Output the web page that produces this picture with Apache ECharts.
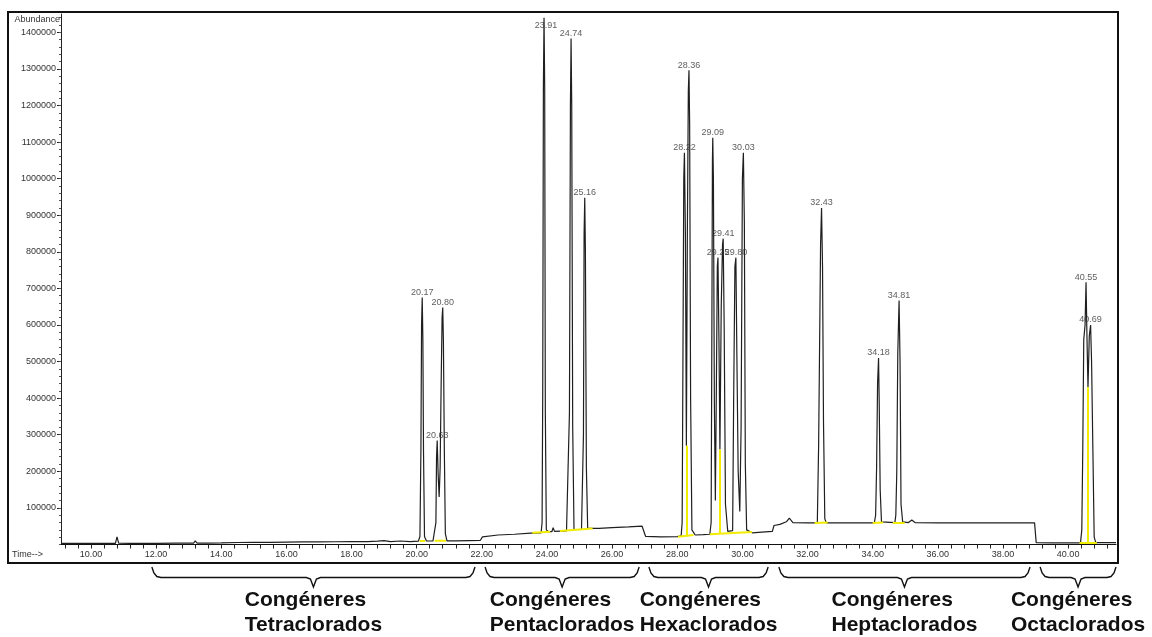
<!DOCTYPE html>
<html>
<head>
<meta charset="utf-8">
<script src="https://cdn.jsdelivr.net/npm/echarts@6/dist/echarts.min.js"></script>
<style>
  html, body { margin: 0; padding: 0; background: #fff; }
  #chart { width: 1152px; height: 637px; }
</style>
</head>
<body>
<div id="chart"></div>
<script>
// Total ion chromatogram of PCB congeners: [retention time (min), abundance]
const trace = [
  [9.08,3000],[9.5,3000],[10.0,3200],[10.5,3000],[10.75,3200],[10.8,21000],[10.85,3500],[11.2,3000],
  [12.0,3200],[12.6,3500],[13.15,3500],[13.2,10000],[13.26,4000],[13.6,4000],[14.0,4500],[14.5,5500],
  [15.0,6000],[15.5,6000],[16.0,6500],[16.5,7000],[17.0,7000],[17.5,7500],[18.0,8000],[18.5,8000],
  [18.8,9000],[19.0,10500],[19.2,8000],[19.5,9500],[19.8,8000],[20.05,9000],
  [20.10,22000],[20.13,260000],[20.15,600000],[20.17,675000],[20.19,560000],[20.21,250000],[20.24,22000],
  [20.30,9500],[20.50,9500],
  [20.56,12000],[20.59,60000],[20.61,240000],[20.63,284000],[20.66,190000],[20.69,130000],[20.72,210000],
  [20.75,430000],[20.78,620000],[20.80,648000],[20.82,560000],[20.85,250000],[20.88,30000],[20.93,10000],
  [21.2,10000],[21.6,10500],[21.95,11000],[22.02,21000],[22.08,24000],[22.5,26000],[23.0,28000],
  [23.5,31000],[23.82,32000],
  [23.85,60000],[23.87,420000],[23.89,1250000],[23.91,1440000],[23.93,1250000],[23.95,360000],[23.98,40000],
  [24.05,35000],[24.15,35000],[24.19,46000],[24.23,36000],[24.6,37000],
  [24.66,40000],[24.69,360000],[24.72,1200000],[24.74,1383000],[24.76,1200000],[24.79,320000],[24.83,41000],
  [25.06,41000],
  [25.09,45000],[25.12,300000],[25.14,850000],[25.16,948000],[25.18,800000],[25.21,210000],[25.25,44000],
  [25.6,44000],[26.0,46000],[26.5,48000],[26.92,50000],[26.98,48000],[27.03,22000],[27.5,21000],
  [28.0,21500],[28.12,24000],
  [28.15,60000],[28.17,420000],[28.20,1000000],[28.22,1071000],[28.25,850000],[28.28,270000],[28.31,850000],
  [28.34,1240000],[28.36,1296000],[28.38,1150000],[28.41,400000],[28.45,40000],[28.55,26000],[28.8,27000],
  [29.0,28000],
  [29.04,60000],[29.06,520000],[29.08,1050000],[29.09,1112000],[29.11,1000000],[29.14,380000],[29.17,120000],
  [29.20,420000],[29.23,760000],[29.25,784000],[29.28,560000],[29.31,260000],[29.35,650000],[29.39,820000],
  [29.41,836000],[29.44,600000],[29.48,110000],[29.55,36000],[29.70,38000],
  [29.73,380000],[29.77,760000],[29.80,784000],[29.83,520000],[29.87,200000],[29.92,90000],[29.96,320000],
  [30.00,1000000],[30.03,1071000],[30.06,880000],[30.09,220000],[30.13,40000],[30.3,32000],[30.6,34000],
  [30.92,36000],[30.97,52000],[31.15,55000],[31.35,62000],[31.44,72000],[31.55,60000],[32.0,59000],
  [32.3,59000],
  [32.34,270000],[32.40,820000],[32.43,920000],[32.46,760000],[32.49,335000],[32.53,70000],[32.58,59000],
  [32.88,59000],[32.93,64000],[32.98,59000],[33.5,59000],[34.05,59000],
  [34.09,80000],[34.12,210000],[34.15,440000],[34.18,510000],[34.20,390000],[34.23,150000],[34.27,62000],
  [34.68,60000],
  [34.71,80000],[34.74,200000],[34.77,520000],[34.81,667000],[34.84,500000],[34.87,110000],[34.92,62000],
  [35.1,60000],[35.2,67000],[35.3,60000],[36.0,59000],[37.0,59000],[38.0,59000],[38.97,59000],
  [39.02,5000],[39.5,4500],[40.0,4500],[40.38,4500],
  [40.42,40000],[40.45,260000],[40.48,560000],[40.52,600000],[40.55,717000],[40.58,560000],[40.61,430000],
  [40.65,570000],[40.69,600000],[40.72,500000],[40.76,260000],[40.80,20000],[40.85,5000],[41.0,5000],
  [41.47,5000]
];

// Integration baselines under the peaks
const integrationBaselines = [
  [[20.09,9000],[20.26,9500]],
  [[20.55,10000],[20.90,10500]],
  [[23.55,32000],[24.10,35000]],
  [[24.40,37000],[25.40,44000]],
  [[28.02,21500],[28.50,26000]],
  [[29.00,28000],[30.30,34000]],
  [[32.22,59000],[32.62,60000]],
  [[34.00,59000],[34.32,60000]],
  [[34.62,60000],[34.98,60000]],
  [[40.35,5000],[40.88,5000]]
];

// Drop lines splitting co-eluting peaks
const dropLines = [
  [[28.28,24000],[28.28,270000]],
  [[29.31,30000],[29.31,260000]],
  [[40.61,5000],[40.61,430000]]
];

// Peak apex labels: [retention time, apex abundance, label]
const peakLabels = [
  [20.17,675000,'20.17'],[20.63,284000,'20.63'],[20.80,648000,'20.80'],
  [23.91,1440000,'23.91'],[24.74,1383000,'24.74'],[25.16,948000,'25.16'],
  [28.22,1071000,'28.22'],[28.36,1296000,'28.36'],[29.09,1112000,'29.09'],
  [29.25,784000,'29.25'],[29.41,836000,'29.41'],[29.80,784000,'29.80'],
  [30.03,1071000,'30.03'],[32.43,920000,'32.43'],[34.18,510000,'34.18'],
  [34.81,667000,'34.81'],[40.55,717000,'40.55'],[40.69,600000,'40.69']
];

// Axis ticks and labels
const timeLabels = [10,12,14,16,18,20,22,24,26,28,30,32,34,36,38,40];
const abundanceLabels = [100000,200000,300000,400000,500000,600000,700000,
  800000,900000,1000000,1100000,1200000,1300000,1400000];
const timeTicks = [];
for (let i = 23; i <= 103; i++) timeTicks.push(Math.round(i * 0.4 * 100) / 100);
const abundanceMinorTicks = [];
for (let v = 0; v <= 1440000; v += 20000) abundanceMinorTicks.push(v);

// Congener groups marked by braces below the time axis
const groupTitle = 'Congéneres';
const groups = [
  { name: 'Tetraclorados', from: 11.87, to: 21.79 },
  { name: 'Pentaclorados', from: 22.10, to: 26.83 },
  { name: 'Hexaclorados',  from: 27.13, to: 30.79 },
  { name: 'Heptaclorados', from: 31.12, to: 38.83 },
  { name: 'Octaclorados',  from: 39.14, to: 41.47 }
];

const labelOffsets = { '23.91': [2, 13] };
const tickFont = "'Liberation Sans', Arial, sans-serif";

const chart = echarts.init(document.getElementById('chart'), null, { renderer: 'canvas' });

const option = {
  backgroundColor: '#fff',
  animation: false,
  grid: { left: 61, right: 36, top: 14, bottom: 92.5, containLabel: false },
  xAxis: {
    type: 'value', min: 9.08, max: 41.47,
    axisLine: { show: true, onZero: false, lineStyle: { color: '#111', width: 1 } },
    axisTick: { show: true, length: 4, customValues: timeTicks, lineStyle: { color: '#222' } },
    axisLabel: {
      show: true, customValues: timeLabels, margin: 6,
      formatter: v => v.toFixed(2),
      fontFamily: tickFont, fontSize: 9, color: '#333'
    },
    splitLine: { show: false }
  },
  yAxis: [{
    type: 'value', min: 0, max: 1450000,
    axisLine: { show: true, lineStyle: { color: '#222', width: 1 } },
    axisTick: { show: true, length: 4, customValues: abundanceLabels, lineStyle: { color: '#222' } },
    axisLabel: {
      show: true, customValues: abundanceLabels, margin: 5,
      formatter: v => String(v),
      fontFamily: tickFont, fontSize: 9, color: '#333'
    },
    splitLine: { show: false }
  }, {
    type: 'value', min: 0, max: 1450000, position: 'left',
    axisLine: { show: false },
    axisTick: { show: true, length: 2, customValues: abundanceMinorTicks, lineStyle: { color: '#555' } },
    axisLabel: { show: false },
    splitLine: { show: false }
  }],
  series: [
    {
      name: 'TIC', type: 'line', data: trace,
      showSymbol: false, symbol: 'none', sampling: null,
      lineStyle: { color: '#1f1f1f', width: 1.2 },
      z: 2, silent: true
    },
    {
      name: 'Integración', type: 'lines', coordinateSystem: 'cartesian2d',
      data: integrationBaselines.concat(dropLines).map(c => ({ coords: c })),
      lineStyle: { color: '#f2ec00', width: 2, opacity: 1 },
      z: 3, silent: true
    },
    {
      name: 'Picos', type: 'scatter', symbolSize: 1,
      itemStyle: { color: 'rgba(0,0,0,0)' },
      data: peakLabels.map(p => ({
        value: [p[0], p[1]],
        label: labelOffsets[p[2]] ? { offset: labelOffsets[p[2]] } : undefined,
        text: p[2]
      })),
      label: {
        show: true, position: 'top', distance: 0,
        formatter: p => p.data.text,
        fontFamily: tickFont, fontSize: 9, color: '#333'
      },
      z: 4, silent: true
    }
  ]
};
chart.setOption(option);

// Frame, axis captions and congener braces
const measure = document.createElement('canvas').getContext('2d');
const groupFont = "bold 21px 'Liberation Sans', Arial, sans-serif";
measure.font = groupFont;

const graphics = [
  { type: 'rect', shape: { x: 8, y: 12, width: 1110, height: 551 },
    style: { fill: 'none', stroke: '#111', lineWidth: 2 }, z: 10, silent: true },
  { type: 'text', x: 60, y: 20,
    style: { text: 'Abundance', font: "9px 'Liberation Sans', Arial, sans-serif", fill: '#333',
             textAlign: 'right', textVerticalAlign: 'middle' }, z: 10 },
  { type: 'text', x: 12, y: 555,
    style: { text: 'Time-->', font: "9px 'Liberation Sans', Arial, sans-serif", fill: '#333',
             textAlign: 'left', textVerticalAlign: 'middle' }, z: 10 }
];

groups.forEach(g => {
  const xL = chart.convertToPixel({ xAxisIndex: 0 }, g.from);
  const xR = chart.convertToPixel({ xAxisIndex: 0 }, g.to);
  const xM = (xL + xR) / 2;
  const yTop = 567, yLine = 577.5, yTip = 587;
  graphics.push({
    type: 'polyline', silent: true, z: 10,
    shape: { points: [
      [xL, yTop], [xL + 2, yTop + 6], [xL + 5, yLine - 1], [xL + 9, yLine],
      [xM - 7, yLine], [xM - 3, yLine + 1.5], [xM, yTip], [xM + 3, yLine + 1.5], [xM + 7, yLine],
      [xR - 9, yLine], [xR - 5, yLine - 1], [xR - 2, yTop + 6], [xR, yTop]
    ] },
    style: { stroke: '#111', lineWidth: 1.4, fill: 'none' }
  });
  const w = Math.max(measure.measureText(groupTitle).width, measure.measureText(g.name).width);
  const left = xM - w / 2;
  graphics.push({
    type: 'text', x: left, y: 600.5, z: 10,
    style: { text: groupTitle, font: groupFont, fill: '#111', textAlign: 'left', textVerticalAlign: 'middle' }
  });
  graphics.push({
    type: 'text', x: left, y: 625.5, z: 10,
    style: { text: g.name, font: groupFont, fill: '#111', textAlign: 'left', textVerticalAlign: 'middle' }
  });
});

chart.setOption({ graphic: graphics });
</script>
</body>
</html>
